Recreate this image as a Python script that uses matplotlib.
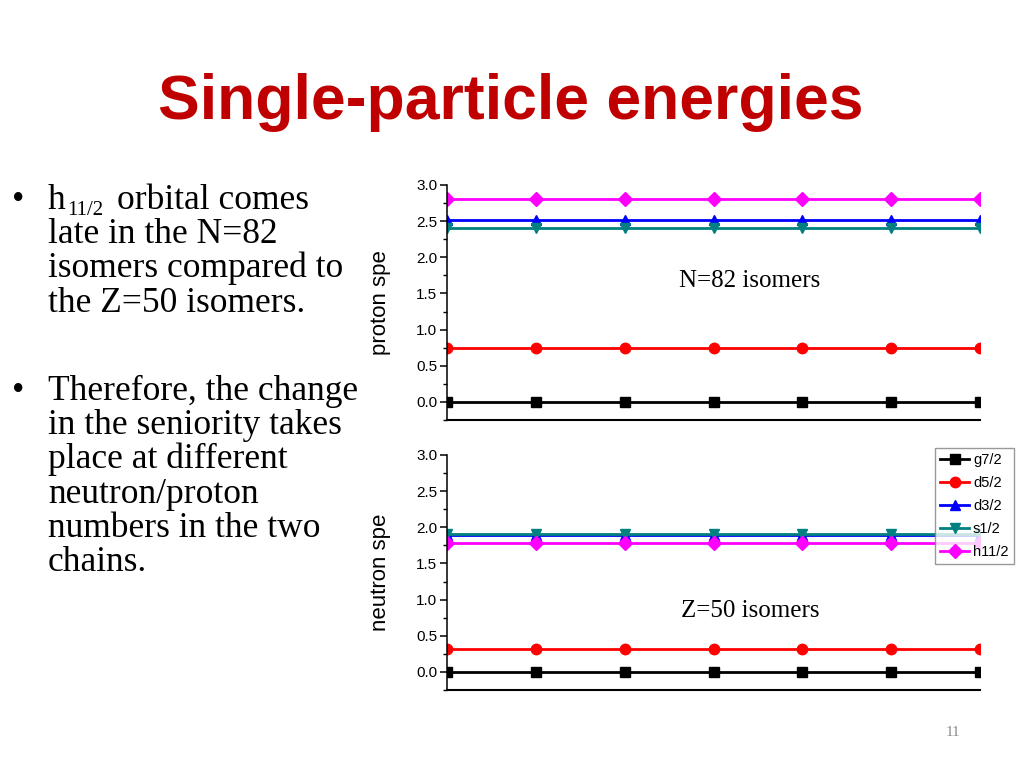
import matplotlib
matplotlib.use("Agg")
import matplotlib.pyplot as plt
from matplotlib.ticker import MultipleLocator

# ---- data ----
points = [0, 1, 2, 3, 4, 5, 6]
orbitals = ["g7/2", "d5/2", "d3/2", "s1/2", "h11/2"]
proton_spe = [0.0, 0.75, 2.51, 2.41, 2.80]
neutron_spe = [0.0, 0.32, 1.89, 1.91, 1.78]
yticks = [0.0, 0.5, 1.0, 1.5, 2.0, 2.5, 3.0]

colors = ["#000000", "#FF0000", "#0000FF", "#008080", "#FF00FF"]
markers = ["s", "o", "^", "v", "D"]

W, H = 1024, 768
fig = plt.figure(figsize=(W / 100, H / 100), dpi=100)
fig.patch.set_facecolor("white")

def fx(px):
    return px / W

def fy(py):
    return 1 - py / H

sans = "Liberation Sans"
serif = "Liberation Serif"

# title
fig.text(fx(511), fy(103), "Single-particle energies", ha="center", va="center",
         fontsize=45, fontweight="bold", color="#C00000", family=sans)

# bullet text
lines1 = [(243, "late in the N=82"), (277, "isomers compared to"),
          (312, "the Z=50 isomers.")]
lines2 = [(400, "Therefore, the change"), (434, "in the seniority takes"),
          (468, "place at different"), (503, "neutron/proton"),
          (537, "numbers in the two"), (571, "chains.")]
fs_b = 25.5
fig.text(fx(12), fy(209), "\u2022", fontsize=fs_b, family=serif, va="baseline")
fig.text(fx(12), fy(400), "\u2022", fontsize=fs_b, family=serif, va="baseline")
fig.text(fx(48), fy(209), "h", fontsize=fs_b, family=serif, va="baseline")
fig.text(fx(67), fy(215), "11/2", fontsize=15, family=serif, va="baseline")
fig.text(fx(117), fy(209), "orbital comes", fontsize=fs_b, family=serif, va="baseline")
for y, t in lines1 + lines2:
    fig.text(fx(48), fy(y), t, fontsize=fs_b, family=serif, va="baseline")

# page number
fig.text(fx(953), fy(733), "11", fontsize=11, family=serif, color="#8C8C8C",
         ha="center", va="center")

def make_axes(top, bottom, values, ylabel, note, note_y):
    ax = fig.add_axes([fx(447), fy(bottom), fx(980) - fx(447), fy(top) - fy(bottom)])
    handles = []
    for name, v, c, m in zip(orbitals, values, colors, markers):
        h, = ax.plot(points, [v] * len(points), color=c, marker=m, lw=2.0,
                     markersize=7.5, markeredgecolor=c, label=name)
        handles.append(h)
    ax.set_xlim(points[0], points[-1])
    ax.set_ylim(-0.25, 3.0)
    ax.set_yticks(yticks)
    ax.set_yticklabels([f"{t:.1f}" for t in yticks])
    ax.yaxis.set_minor_locator(MultipleLocator(0.25))
    ax.tick_params(axis="y", which="major", direction="out", length=5, width=1.1,
                   labelsize=11, pad=2)
    ax.tick_params(axis="y", which="minor", direction="out", length=3, width=1.0)
    ax.tick_params(axis="x", which="both", bottom=False, labelbottom=False)
    for lab in ax.get_yticklabels():
        lab.set_family(sans)
    ax.spines["top"].set_visible(False)
    ax.spines["right"].set_visible(False)
    ax.spines["left"].set_linewidth(1.1)
    ax.spines["bottom"].set_linewidth(1.5)
    ax.set_ylabel(ylabel, fontsize=16, family=sans)
    ax.yaxis.set_label_coords(-0.106, 0.5)
    fig.text(fx(750), fy(note_y), note, fontsize=18, family=serif,
             ha="center", va="center")
    return ax, handles

ax1, _ = make_axes(185, 420, proton_spe, "proton spe", "N=82 isomers", 281)
ax2, handles = make_axes(455, 690, neutron_spe, "neutron spe", "Z=50 isomers", 611)

leg = fig.legend(handles=handles, loc="upper left", bbox_to_anchor=(fx(935), fy(448)),
                 bbox_transform=fig.transFigure, borderaxespad=0, fancybox=False,
                 frameon=True, edgecolor="#808080", handlelength=2.0,
                 handletextpad=0.25, borderpad=0.35, labelspacing=0.62,
                 prop={"family": sans, "size": 10.5})
leg.get_frame().set_linewidth(1.0)

fig.savefig("out.png", dpi=100, facecolor="white")
